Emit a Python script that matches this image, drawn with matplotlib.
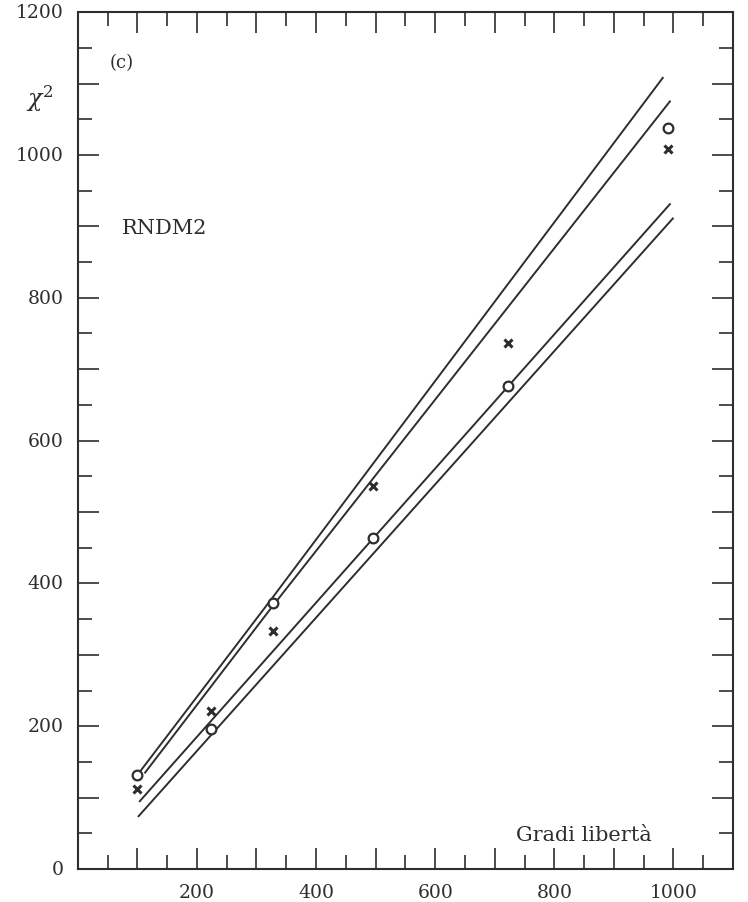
import numpy as np
import matplotlib
matplotlib.use("Agg")
import matplotlib.pyplot as plt
from matplotlib.ticker import MultipleLocator

plt.rcParams["font.family"] = ["DejaVu Serif"]
plt.rcParams["mathtext.fontset"] = "dejavuserif"

# Data

# degrees of freedom of the tests
dof = [99, 224, 327, 496, 722, 991]
chi2_circle = [131, 196, 373, 463, 676, 1037]
chi2_cross = [112, 222, 333, 536, 737, 1008]

# confidence limits (upper pair, lower pair)
upper_a_x = [104, 325, 983]
upper_a_y = [136, 378, 1109]
upper_b_x = [112, 325, 995]
upper_b_y = [134, 366, 1076]
lower_a_x = [103, 995]
lower_a_y = [94, 932]
lower_b_x = [101, 1000]
lower_b_y = [73, 912]

x_ticks = [200, 400, 600, 800, 1000]
y_ticks = [0, 200, 400, 600, 800, 1000, 1200]

INK = "#2e2e2e"

fig = plt.figure(figsize=(7.48, 9.03), dpi=100)
ax = fig.add_axes([0.104, 0.0365, 0.876, 0.949])

for xs, ys in [(upper_a_x, upper_a_y), (upper_b_x, upper_b_y),
               (lower_a_x, lower_a_y), (lower_b_x, lower_b_y)]:
    ax.plot(xs, ys, color=INK, lw=1.4, solid_capstyle="butt")

ax.plot(dof, chi2_circle, ls="none", marker="o", ms=7, mfc="white",
        mec=INK, mew=1.6, zorder=3)
ax.plot(dof, chi2_cross, ls="none", marker="x", ms=6, mec=INK,
        mew=2.2, zorder=3)

ax.set_xlim(0, 1100)
ax.set_ylim(0, 1200)
ax.xaxis.set_major_locator(MultipleLocator(100))
ax.xaxis.set_minor_locator(MultipleLocator(50))
ax.yaxis.set_major_locator(MultipleLocator(100))
ax.yaxis.set_minor_locator(MultipleLocator(50))
ax.set_xticklabels([])
ax.set_yticklabels([])

ax.tick_params(which="both", direction="in", top=True, right=True,
               color=INK, width=1.2)
ax.tick_params(which="major", length=15)
ax.tick_params(which="minor", length=10)

for sp in ax.spines.values():
    sp.set_color(INK)
    sp.set_linewidth(1.5)

# tick labels only every 200
for v in x_ticks:
    ax.text(v, -20, str(v), ha="center", va="top", fontsize=13.5, color=INK)
for v in y_ticks:
    ax.text(-24, v, str(v), ha="right", va="center", fontsize=13.5, color=INK)

ax.text(0.048, 0.942, "(c)", transform=ax.transAxes, fontsize=13,
        color=INK, ha="left", va="center")
ax.text(-0.058, 0.9, r"$\chi^2$", transform=ax.transAxes, fontsize=17,
        color=INK, ha="center", va="center")
ax.text(74, 898, "RNDM2", fontsize=15, color=INK, ha="left", va="center")
ax.text(849, 49, "Gradi libertà", fontsize=15, color=INK, ha="center",
        va="center")

fig.savefig("out.png", dpi=100, facecolor="white")
